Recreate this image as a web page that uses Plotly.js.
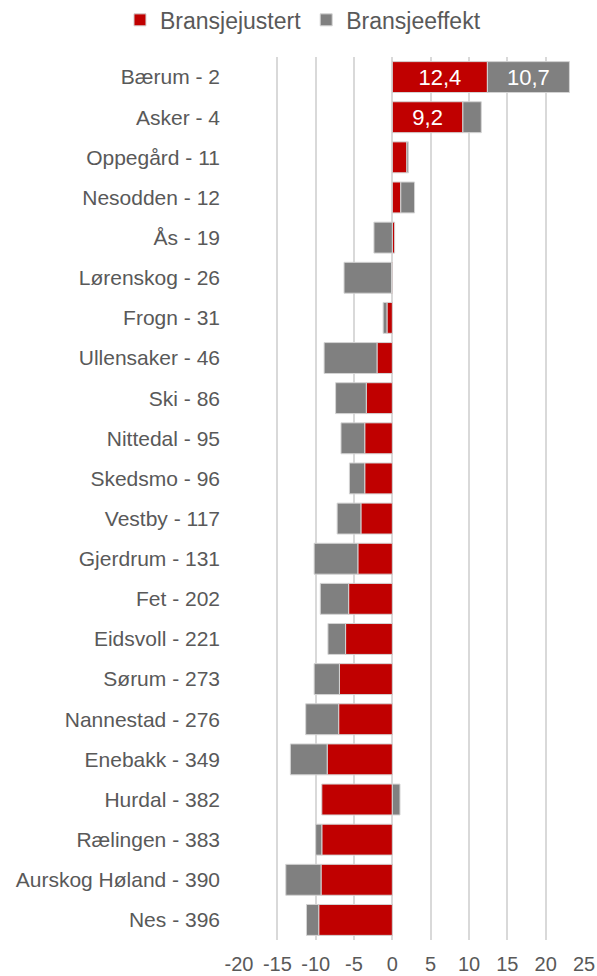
<!DOCTYPE html>
<html>
<head>
<meta charset="utf-8">
<script src="https://cdn.plot.ly/plotly-3.0.1.min.js"></script>
<style>
  html, body { margin: 0; padding: 0; background: #ffffff; }
  #chart { width: 597px; height: 976px; }
</style>
</head>
<body>
<div id="chart"></div>
<script>
const categories = [
  "Bærum - 2", "Asker - 4", "Oppegård - 11", "Nesodden - 12", "Ås - 19",
  "Lørenskog - 26", "Frogn - 31", "Ullensaker - 46", "Ski - 86", "Nittedal - 95",
  "Skedsmo - 96", "Vestby - 117", "Gjerdrum - 131", "Fet - 202", "Eidsvoll - 221",
  "Sørum - 273", "Nannestad - 276", "Enebakk - 349", "Hurdal - 382", "Rælingen - 383",
  "Aurskog Høland - 390", "Nes - 396"
];
const bransjejustert = [12.4, 9.2, 1.9, 1.1, 0.3, -0.1, -0.7, -2.0, -3.4, -3.6, -3.6, -4.1, -4.5, -5.7, -6.1, -6.9, -7.0, -8.5, -9.2, -9.2, -9.3, -9.6];
const bransjeeffekt = [10.7, 2.4, 0.2, 1.8, -2.4, -6.2, -0.5, -6.9, -4.0, -3.1, -2.0, -3.1, -5.7, -3.7, -2.3, -3.3, -4.3, -4.8, 1.0, -0.8, -4.6, -1.6];
const labelledJustert = ["Bærum - 2", "Asker - 4"];
const labelledEffekt = ["Bærum - 2"];
const tickValues = [-20, -15, -10, -5, 0, 5, 10, 15, 20, 25];
const tickLabels = ["-20", "-15", "-10", "-5", "0", "5", "10", "15", "20", "25"];

const seriesNames = ["Bransjejustert", "Bransjeeffekt"];
const seriesColors = ["#C00000", "#808080"];

const FONT = "'Liberation Sans', Arial, sans-serif";
const TEXT_COLOR = "#595959";

function makeTrace(name, values, color, labelled) {
  return {
    type: "bar",
    orientation: "h",
    name: name,
    y: categories,
    x: values,
    marker: { color: color, line: { color: "#d4d4d4", width: 1 } },
    texttemplate: categories.map(c => labelled.includes(c) ? "%{x:.1f}" : ""),
    textposition: "inside",
    insidetextanchor: "middle",
    textangle: 0,
    constraintext: "none",
    textfont: { family: FONT, size: 22, color: "#ffffff" },
    hoverinfo: "skip"
  };
}

const data = [
  makeTrace(seriesNames[0], bransjejustert, seriesColors[0], labelledJustert),
  makeTrace(seriesNames[1], bransjeeffekt, seriesColors[1], labelledEffekt)
];

const layout = {
  width: 597,
  height: 976,
  barmode: "relative",
  bargap: 0.23,
  separators: ", ",
  paper_bgcolor: "#ffffff",
  plot_bgcolor: "#ffffff",
  font: { family: FONT, size: 21, color: TEXT_COLOR },
  margin: { l: 239, r: 13, t: 57, b: 36, pad: 0, autoexpand: false },
  showlegend: true,
  legend: {
    orientation: "h",
    xref: "paper",
    yref: "paper",
    x: -0.345,
    xanchor: "left",
    y: 1.042,
    yanchor: "middle",
    font: { family: FONT, size: 23, color: TEXT_COLOR },
    traceorder: "normal",
    bgcolor: "rgba(0,0,0,0)"
  },
  xaxis: {
    range: [-20, 25],
    tickvals: tickValues,
    ticktext: tickLabels,
    showgrid: true,
    gridcolor: "#d9d9d9",
    gridwidth: 2,
    zeroline: true,
    zerolinecolor: "#d9d9d9",
    zerolinewidth: 2,
    showline: false,
    ticks: "",
    ticklabelstandoff: 10,
    tickfont: { family: FONT, size: 20, color: TEXT_COLOR },
    fixedrange: true
  },
  yaxis: {
    type: "category",
    autorange: "reversed",
    showgrid: false,
    zeroline: false,
    showline: false,
    ticks: "",
    ticklabelstandoff: 18,
    tickfont: { family: FONT, size: 21, color: TEXT_COLOR },
    fixedrange: true
  }
};

Plotly.newPlot("chart", data, layout, { staticPlot: true, displayModeBar: false });
</script>
</body>
</html>
